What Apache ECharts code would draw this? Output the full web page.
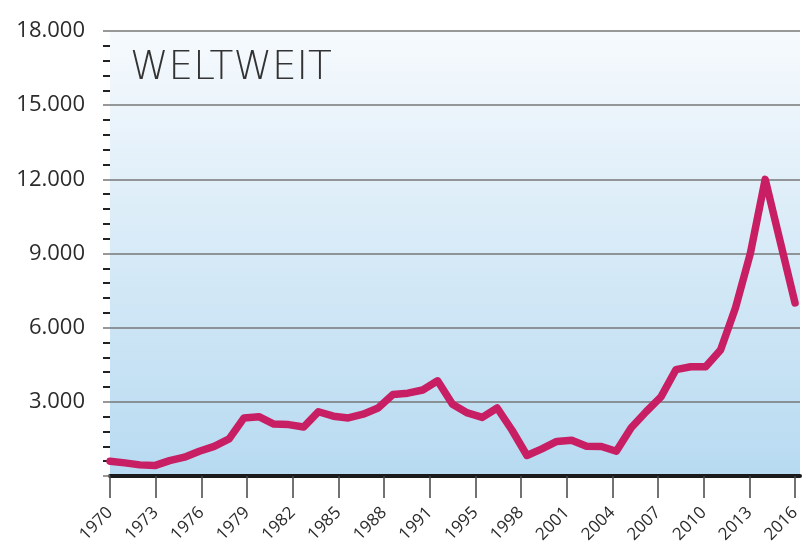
<!DOCTYPE html>
<html>
<head>
<meta charset="utf-8">
<script src="https://cdn.jsdelivr.net/npm/echarts@6/dist/echarts.min.js"></script>
<style>html,body{margin:0;padding:0;background:#fff;}#c{width:805px;height:544px;}</style>
</head>
<body>
<div id="c"></div>
<script>
// Years of the series (one point per year)
const years = [];
for (let y = 1970; y <= 2016; y++) years.push(String(y));

// Values, 1970..2016
const values = [
  600, 530, 450, 420, 620, 760, 1000, 1200, 1500, 2350,
  2400, 2100, 2080, 1980, 2600, 2420, 2350, 2500, 2750, 3300,
  3350, 3480, 3850, 2900, 2550, 2370, 2750, 1850, 830, 1100,
  1400, 1450, 1205, 1195, 1000, 1950, 2600, 3200, 4300, 4420,
  4420, 5100, 6800, 9000, 12000, 9500, 7000
];

// Tick labels shown on the x axis (evenly spaced in the original)
const xTickLabels = ['1970','1973','1976','1979','1982','1985','1988','1991','1995','1998','2001','2004','2007','2010','2013','2016'];

// Y axis ticks
const yMax = 18000, yStep = 3000;

const chart = echarts.init(document.getElementById('c'), null, {renderer: 'canvas'});
const fmt = v => v === 0 ? '' : String(v).replace(/\B(?=(\d{3})+(?!\d))/g, '.');

chart.setOption({
  animation: false,
  title: {
    text: 'WELTWEIT',
    left: 130, top: 49, padding: 0,
    textStyle: {fontFamily: 'DejaVu Sans', fontWeight: 200, fontSize: 39, color: '#333'}
  },
  grid: [
    {left: 110, right: 5, top: 31, bottom: 68, show: true, borderWidth: 0,
     containLabel: false, outerBoundsMode: 'none',
     backgroundColor: new echarts.graphic.LinearGradient(0, 0, 0, 1, [
       {offset: 0, color: '#f6fafd'}, {offset: 1, color: '#b7daf1'}])},
    {left: 110, right: 10, top: 31, bottom: 68, containLabel: false, outerBoundsMode: 'none'}
  ],
  xAxis: [
    {gridIndex: 0, type: 'value', min: 0, max: 1, show: true, position: 'bottom',
     axisLine: {show: true, lineStyle: {color: '#1a1a1a', width: 4}},
     axisTick: {show: false}, axisLabel: {show: false}, splitLine: {show: false}},
    {gridIndex: 1, type: 'category', data: years, boundaryGap: false, show: false, position: 'bottom'},
    {gridIndex: 1, type: 'value', min: 0, max: xTickLabels.length - 1, interval: 1, position: 'bottom',
     axisLine: {show: false},
     axisTick: {show: true, length: 22, lineStyle: {color: '#444', width: 1.5}},
     splitLine: {show: false},
     axisLabel: {show: true, rotate: 45, margin: 34, fontSize: 17, fontFamily: 'Open Sans', color: '#2b2b2b',
       formatter: v => xTickLabels[Math.round(v)] || ''}}
  ],
  yAxis: [
    {gridIndex: 0, type: 'value', min: 0, max: yMax, interval: yStep,
     axisLine: {show: false},
     axisTick: {show: true, length: 7, lineStyle: {color: '#777', width: 1.5}},
     minorTick: {show: true, splitNumber: 5, length: 7, lineStyle: {color: '#222', width: 2}},
     splitLine: {show: true, lineStyle: {color: '#777', width: 1.5}},
     axisLabel: {margin: 25, fontSize: 22, fontFamily: 'Open Sans', color: '#2b2b2b', formatter: fmt}},
    {gridIndex: 1, type: 'value', min: 0, max: yMax, show: false}
  ],
  series: [{
    type: 'line', xAxisIndex: 1, yAxisIndex: 1, data: values,
    showSymbol: false, symbol: 'none',
    lineStyle: {color: '#c81e64', width: 7.5, cap: 'round', join: 'round'}
  }]
});
</script>
</body>
</html>
